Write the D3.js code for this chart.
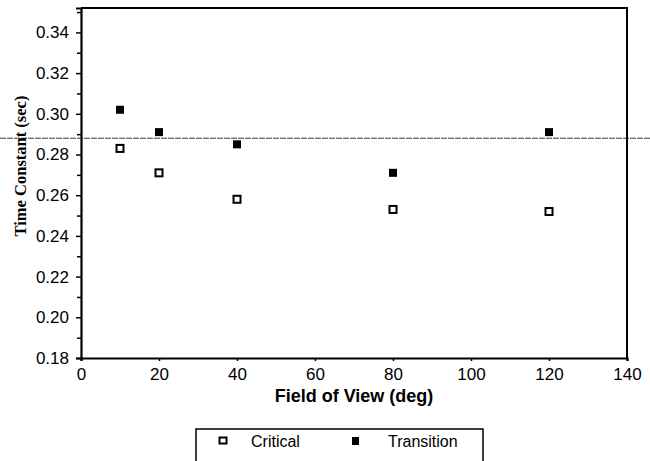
<!DOCTYPE html>
<html>
<head>
  <meta charset="utf-8">
  <title>Time Constant vs Field of View</title>
  <script src="https://d3js.org/d3.v7.min.js"></script>
  <style>
    body { margin: 0; background: #fff; }
    text { font-family: "Liberation Sans", Arial, sans-serif; fill: #000; }
  </style>
</head>
<body>
  <svg id="chart"></svg>
  <script>

    // Data
    const fieldOfView = [10, 20, 40, 80, 120];
    const critical = [0.283, 0.271, 0.258, 0.253, 0.252];
    const transition = [0.302, 0.291, 0.285, 0.271, 0.291];
    const referenceLine = 0.288;

    const xTicks = [0, 20, 40, 60, 80, 100, 120, 140];
    const yTicks = [0.18, 0.20, 0.22, 0.24, 0.26, 0.28, 0.30, 0.32, 0.34];
    const yMinorTicks = [0.19, 0.21, 0.23, 0.25, 0.27, 0.29, 0.31, 0.33, 0.35];

    const width = 650;
    const height = 461;
    const margin = { top: 8, right: 23, bottom: 103, left: 81 };

    const svg = d3.select("#chart")
      .attr("width", width)
      .attr("height", height);

    // Scales
    const xScale = d3.scaleLinear()
      .domain([0, 140])
      .range([margin.left, width - margin.right]);

    const yScale = d3.scaleLinear()
      .domain([0.18, 0.352])
      .range([height - margin.bottom, margin.top]);

    // Horizontal reference line that runs across the whole page
    svg.append("line")
      .attr("x1", 0)
      .attr("x2", width)
      .attr("y1", yScale(referenceLine))
      .attr("y2", yScale(referenceLine))
      .attr("stroke", "#222")
      .attr("stroke-width", 0.9)
      .attr("stroke-dasharray", "6,1");

    // Top and right border
    svg.append("path")
      .attr("d", `M${xScale(0)},${yScale(0.352)} H${xScale(140)} V${yScale(0.18)}`)
      .attr("fill", "none")
      .attr("stroke", "#000")
      .attr("stroke-width", 2);

    // Y axis with minor ticks
    svg.append("g")
      .attr("transform", `translate(${xScale(0)},0)`)
      .call(d3.axisLeft(yScale).tickValues(yMinorTicks).tickSize(4).tickFormat(""))
      .call(g => g.select(".domain").remove())
      .selectAll("line").attr("stroke-width", 1.5);

    const yAxis = svg.append("g")
      .attr("transform", `translate(${xScale(0)},0)`)
      .call(d3.axisLeft(yScale).tickValues(yTicks).tickSize(5).tickPadding(7).tickFormat(d3.format(".2f")));
    yAxis.select(".domain").attr("stroke-width", 2.2);
    yAxis.selectAll("line").attr("stroke-width", 1.5);
    yAxis.selectAll("text")
      .attr("font-size", 17)
      .attr("font-family", "Liberation Sans, Arial, sans-serif");

    // X axis
    const xAxis = svg.append("g")
      .attr("transform", `translate(0,${yScale(0.18)})`)
      .call(d3.axisBottom(xScale).tickValues(xTicks).tickSize(3).tickPadding(7));
    xAxis.select(".domain").attr("stroke-width", 2.2);
    xAxis.selectAll("line").attr("stroke-width", 1.5);
    xAxis.selectAll("text")
      .attr("font-size", 17)
      .attr("font-family", "Liberation Sans, Arial, sans-serif");

    // Axis titles
    svg.append("text")
      .attr("x", (xScale(0) + xScale(140)) / 2)
      .attr("y", 402)
      .attr("text-anchor", "middle")
      .attr("font-size", 18)
      .attr("font-weight", "bold")
      .text("Field of View (deg)");

    svg.append("text")
      .attr("text-anchor", "middle")
      .attr("transform", "translate(26, 166) rotate(-90)")
      .attr("font-size", 16.5)
      .attr("font-weight", "bold")
      .style("font-family", "Liberation Serif, Times New Roman, serif")
      .text("Time Constant (sec)");

    // Critical points: open squares
    svg.selectAll(".critical")
      .data(fieldOfView)
      .join("rect")
      .attr("class", "critical")
      .attr("x", (d, i) => xScale(d) - 3.5)
      .attr("y", (d, i) => yScale(critical[i]) - 3.5)
      .attr("width", 7)
      .attr("height", 7)
      .attr("fill", "#fff")
      .attr("stroke", "#000")
      .attr("stroke-width", 2);

    // Transition points: filled squares
    svg.selectAll(".transition")
      .data(fieldOfView)
      .join("rect")
      .attr("class", "transition")
      .attr("x", (d, i) => xScale(d) - 4)
      .attr("y", (d, i) => yScale(transition[i]) - 4)
      .attr("width", 8)
      .attr("height", 8)
      .attr("fill", "#000");

    // Legend box (runs off the bottom edge)
    const legend = svg.append("g");
    legend.append("rect")
      .attr("x", 196)
      .attr("y", 429)
      .attr("width", 287)
      .attr("height", 50)
      .attr("fill", "#fff")
      .attr("stroke", "#000")
      .attr("stroke-width", 1.5);

    legend.append("rect")
      .attr("x", 219.5)
      .attr("y", 437.5)
      .attr("width", 7)
      .attr("height", 6)
      .attr("fill", "#fff")
      .attr("stroke", "#000")
      .attr("stroke-width", 2);
    legend.append("text")
      .attr("x", 251)
      .attr("y", 447)
      .attr("font-size", 16)
      .text("Critical");

    legend.append("rect")
      .attr("x", 352)
      .attr("y", 437)
      .attr("width", 7)
      .attr("height", 8)
      .attr("fill", "#000");
    legend.append("text")
      .attr("x", 388)
      .attr("y", 447)
      .attr("font-size", 16)
      .text("Transition");

  </script>
</body>
</html>
